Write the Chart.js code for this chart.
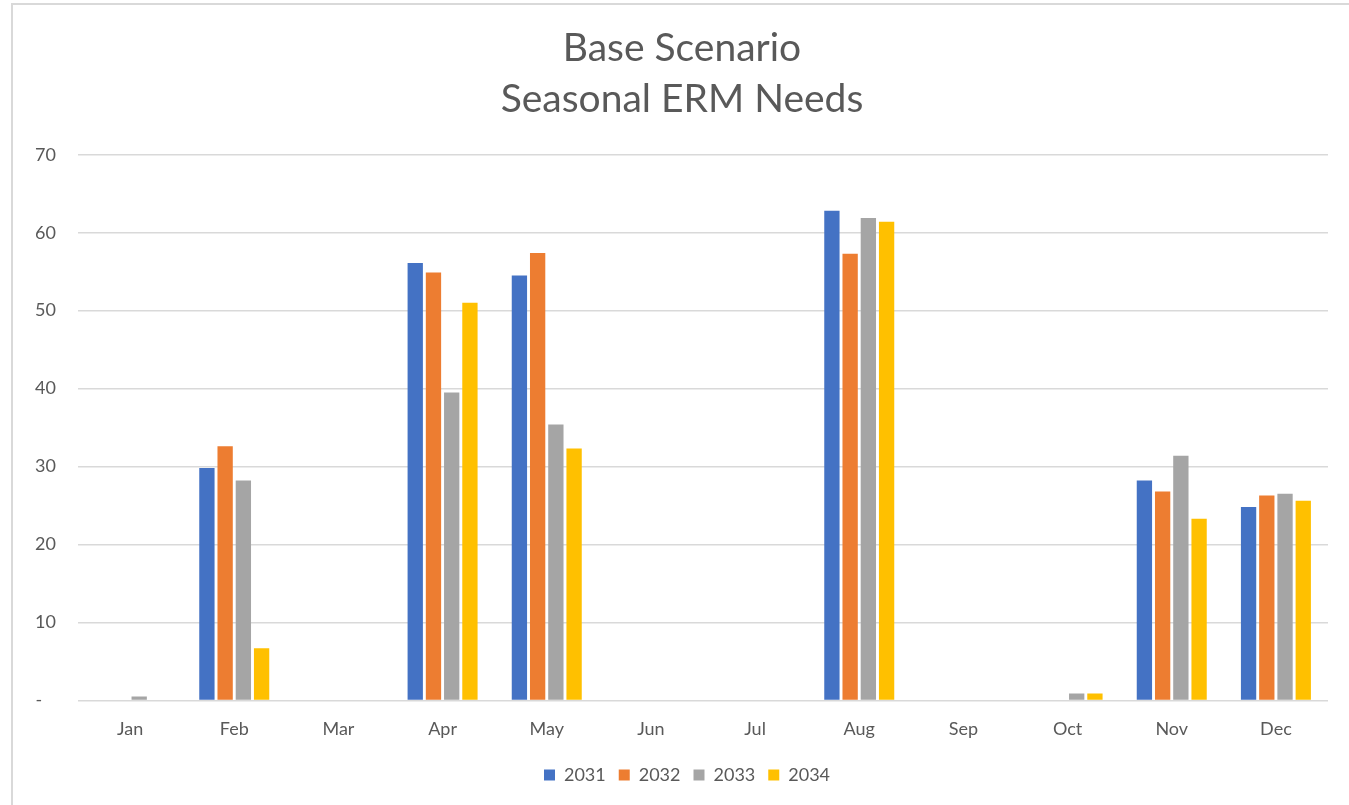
<!DOCTYPE html>
<html>
<head>
<meta charset="utf-8">
<script src="https://cdn.jsdelivr.net/npm/chart.js@4/dist/chart.umd.min.js"></script>
<style>
  html, body { margin: 0; padding: 0; background: #ffffff; width: 1349px; height: 805px; overflow: hidden; }
  #frame { position: absolute; left: 11px; top: 3px; width: 1400px; height: 900px; border-left: 2px solid #d9d9d9; border-top: 2px solid #d9d9d9; box-sizing: border-box; }
  #wrap { position: absolute; left: 0; top: 0; width: 1349px; height: 805px; }
</style>
</head>
<body>
<div id="frame"></div>
<div id="wrap"><canvas id="c" width="1349" height="805"></canvas></div>
<script>
const months = ['Jan','Feb','Mar','Apr','May','Jun','Jul','Aug','Sep','Oct','Nov','Dec'];
const years = ['2031','2032','2033','2034'];
const v2031 = [0, 29.8, 0, 56.1, 54.5, 0, 0, 62.8, 0, 0, 28.2, 24.8];
const v2032 = [0, 32.6, 0, 54.9, 57.4, 0, 0, 57.3, 0, 0, 26.8, 26.3];
const v2033 = [0.5, 28.2, 0, 39.5, 35.4, 0, 0, 61.9, 0, 0.9, 31.4, 26.5];
const v2034 = [0, 6.7, 0, 51.0, 32.3, 0, 0, 61.4, 0, 0.9, 23.3, 25.6];
const yTicks = [0, 10, 20, 30, 40, 50, 60, 70];
const colors = ['#4472C4', '#ED7D31', '#A5A5A5', '#FFC000'];
const seriesValues = [v2031, v2032, v2033, v2034];

const FONT = 'Lato, "Open Sans", sans-serif';
const TXT = '#595959';

const shiftPlugin = {
  id: 'shiftBoxes',
  afterLayout(chart) {
    if (chart.titleBlock) { chart.titleBlock.left += 8; chart.titleBlock.right += 8; }
    if (chart.legend) { chart.legend.left += 13; chart.legend.right += 13; }
  }
};

new Chart(document.getElementById('c'), {
  type: 'bar',
  data: {
    labels: months,
    datasets: years.map((y, i) => ({
      label: y,
      data: seriesValues[i],
      backgroundColor: colors[i],
      borderWidth: 0,
      categoryPercentage: 0.7,
      barPercentage: 0.84
    }))
  },
  plugins: [shiftPlugin],
  options: {
    responsive: false,
    animation: false,
    layout: { padding: { left: 20, right: 21, top: 0, bottom: 11 } },
    plugins: {
      title: {
        display: true,
        text: ['Base Scenario', 'Seasonal ERM Needs'],
        color: TXT,
        font: { family: FONT, size: 39, weight: 'normal', lineHeight: 1.33 },
        padding: { top: 22, bottom: 29 }
      },
      legend: {
        position: 'bottom',
        labels: {
          color: TXT,
          font: { family: FONT, size: 18 },
          boxWidth: 11,
          boxHeight: 11,
          padding: 13
        }
      },
      tooltip: { enabled: false }
    },
    scales: {
      x: {
        afterFit: (s) => { s.height = s.height - 5; },
        grid: { display: false, drawTicks: false },
        border: { display: false },
        ticks: { color: TXT, font: { family: FONT, size: 18 }, padding: 18 }
      },
      y: {
        min: 0,
        max: 70,
        afterBuildTicks: (s) => { s.ticks = yTicks.map(v => ({ value: v })); },
        afterFit: (s) => { s.width = 58; },
        grid: { color: '#d9d9d9', lineWidth: 1.5, drawTicks: false },
        border: { display: false },
        ticks: {
          color: TXT,
          font: { family: FONT, size: 18 },
          padding: 22,
          callback: (v) => v === 0 ? '-   ' : String(v)
        }
      }
    }
  }
});
</script>
</body>
</html>
